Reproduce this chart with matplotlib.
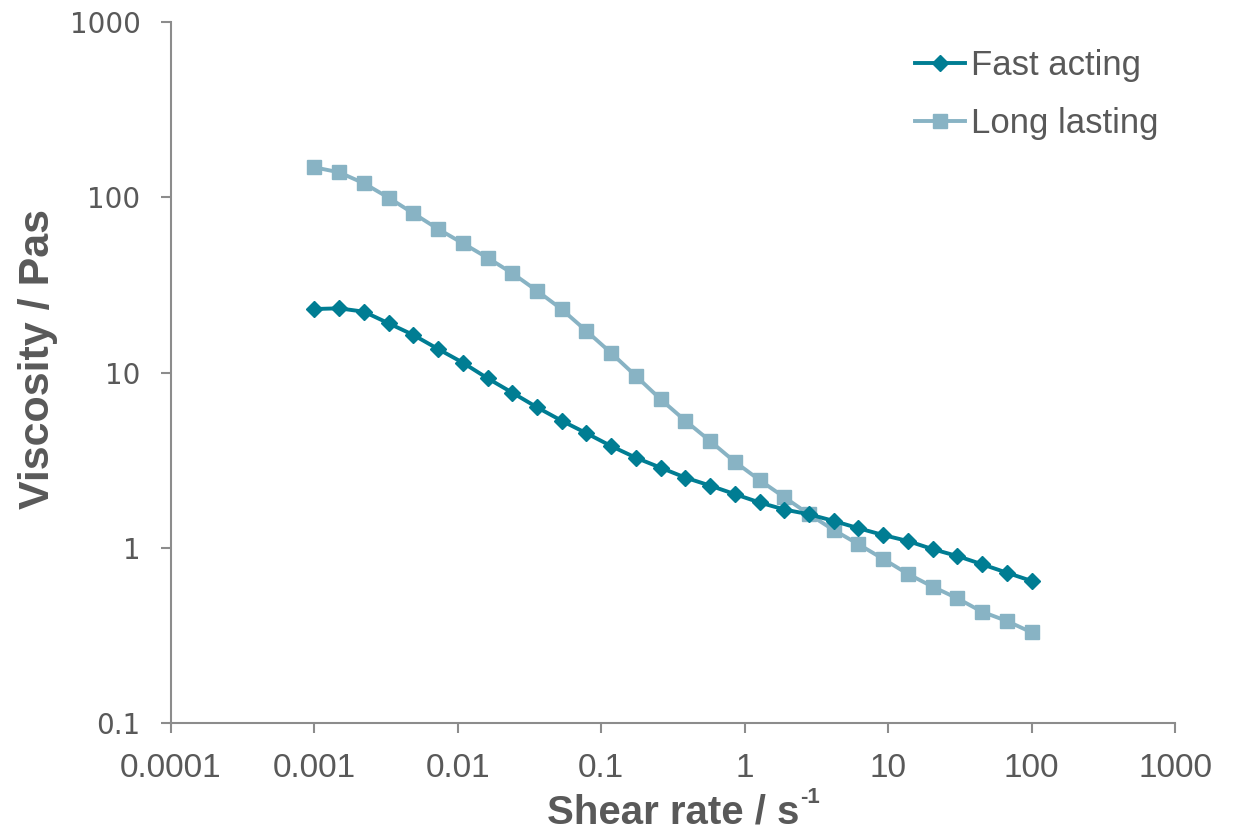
import matplotlib
matplotlib.use("Agg")
import matplotlib.pyplot as plt
from matplotlib.ticker import FixedLocator, FixedFormatter, NullLocator

# shear rate sweep, 30 points 0.001 .. 100 1/s
shear_rate = [0.001, 0.001487, 0.002212, 0.00329, 0.004894, 0.007279, 0.01083, 0.0161,
              0.02395, 0.03562, 0.05298, 0.0788, 0.1172, 0.1743, 0.2593, 0.3857,
              0.5737, 0.8532, 1.269, 1.887, 2.807, 4.175, 6.21, 9.237, 13.74,
              20.43, 30.39, 45.2, 67.23, 100.0]
fast_acting = [23.05, 23.26, 22.25, 19.1, 16.38, 13.62, 11.38, 9.27, 7.67, 6.33,
               5.3, 4.5, 3.8, 3.26, 2.86, 2.51, 2.26, 2.02, 1.81, 1.65,
               1.55, 1.42, 1.29, 1.18, 1.09, 0.98, 0.895, 0.803, 0.719, 0.645]
long_lasting = [148.5, 139.1, 120.4, 99.6, 81.1, 66.0, 54.7, 45.2, 36.9, 29.3,
                22.96, 17.26, 12.92, 9.55, 7.03, 5.3, 4.06, 3.09, 2.43, 1.94,
                1.55, 1.26, 1.045, 0.861, 0.707, 0.598, 0.513, 0.43, 0.381, 0.328]

x_ticks = [0.0001, 0.001, 0.01, 0.1, 1, 10, 100, 1000]
x_labels = ['0.0001', '0.001', '0.01', '0.1', '1', '10', '100', '1000']
y_ticks = [0.1, 1, 10, 100, 1000]
y_labels = ['0.1', '1', '10', '100', '1000']

grey_txt = '#595959'
grey_ax = '#8c8c8c'
c_fast = '#007d93'
c_long = '#88b3c4'

plt.rcParams['font.family'] = ['Liberation Sans', 'DejaVu Sans']

fig = plt.figure(figsize=(12.43, 8.33), dpi=100)
ax = fig.add_axes([0.1376, 0.1324, 0.8077, 0.8408])

ax.plot(shear_rate, fast_acting, color=c_fast, lw=2.8, marker='D', ms=8,
        label='Fast acting', zorder=3)
ax.plot(shear_rate, long_lasting, color=c_long, lw=2.8, marker='s', ms=9.5,
        label='Long lasting', zorder=2)

ax.set_xscale('log')
ax.set_yscale('log')
ax.set_xlim(0.0001, 1000)
ax.set_ylim(0.1, 1000)

ax.xaxis.set_major_locator(FixedLocator(x_ticks))
ax.xaxis.set_major_formatter(FixedFormatter(x_labels))
ax.yaxis.set_major_locator(FixedLocator(y_ticks))
ax.yaxis.set_major_formatter(FixedFormatter(y_labels))
ax.xaxis.set_minor_locator(NullLocator())
ax.yaxis.set_minor_locator(NullLocator())

for s in ['top', 'right']:
    ax.spines[s].set_visible(False)
for s in ['left', 'bottom']:
    ax.spines[s].set_color(grey_ax)
    ax.spines[s].set_linewidth(1.5)

ax.tick_params(axis='both', direction='out', length=7, width=1.5, color=grey_ax,
               labelcolor=grey_txt)
ax.tick_params(axis='x', pad=15, labelsize=24)
ax.tick_params(axis='y', pad=15)
for lab in ax.get_yticklabels():
    lab.set_fontfamily('DejaVu Sans')
    lab.set_fontsize(20)

ax.set_xlabel('Shear rate / s', fontsize=29, fontweight='bold',
              color=grey_txt, labelpad=7)
# superscript -1 next to the x label
ax.annotate('-1', xy=(1.0, 0.62), xycoords=ax.xaxis.label, xytext=(0.5, 0),
            textcoords='offset points', fontsize=16, fontweight='bold',
            color=grey_txt, ha='left', va='bottom')
ax.set_ylabel('Viscosity / Pas', fontsize=31, fontweight='bold', color=grey_txt)
ax.yaxis.set_label_coords(-0.113, 0.52)

ax.legend(loc='upper left', bbox_to_anchor=(0.741, 0.962), frameon=False, fontsize=25,
          labelcolor=grey_txt, handlelength=1.45, handletextpad=0.15,
          labelspacing=0.72, borderaxespad=0, borderpad=0)

fig.savefig('out.png', dpi=100)
